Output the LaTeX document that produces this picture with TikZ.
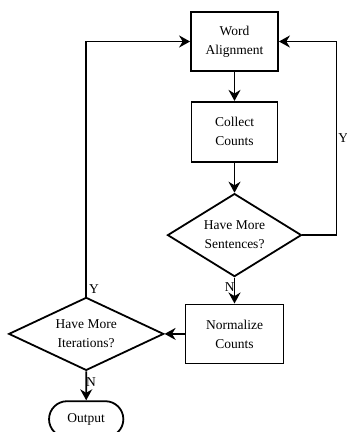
\documentclass[tikz,border=0pt]{standalone}
\usepackage{fontspec}
\setmainfont{Liberation Serif}
\usetikzlibrary{positioning, arrows.meta, shapes.geometric, shapes.misc}

\begin{document}
\begin{tikzpicture}[
  x=1pt, y=-1pt,
  every node/.style={font=\fontsize{13.5}{19}\selectfont},
  box/.style={draw, rectangle, line width=1.8pt, align=center, inner sep=2pt},
  decide/.style={draw, diamond, line width=1.8pt, align=center, inner sep=0pt},
  term/.style={draw, rounded rectangle, line width=1.8pt, align=center, minimum width=81pt, minimum height=36pt},
  lbl/.style={inner sep=0pt},
  arr/.style={-{Stealth[length=11pt, width=12pt]}, line width=1.8pt}
]
  \useasboundingbox (0,0) rectangle (347,432);

  \node[box, minimum width=87pt, minimum height=59pt] (word) at (234.5,41.5) {Word\\Alignment};
  \node[box, below=29pt of word, minimum width=86pt, minimum height=60pt] (collect) {Collect\\Counts};
  \node[decide, below=30pt of collect, aspect=1.6, minimum width=134pt, minimum height=83pt] (sent)
    {Have More\\Sentences?};
  \node[box, below=26pt of sent, minimum width=98pt, minimum height=59pt] (norm) {Normalize\\Counts};
  \node[decide, left=20pt of norm, aspect=2.1, minimum width=155pt, minimum height=73pt] (iter)
    {Have More\\Iterations?};
  \node[term, below=29pt of iter] (out) {Output};

  \coordinate[right=34pt of sent.east] (rturn);

  \draw[arr] (word) -- (collect);
  \draw[arr] (collect) -- (sent);
  \draw[arr] (sent.east) -- (rturn) |- node[pos=0.25, lbl, right=1pt] {Y} (word.east);
  \draw[arr] (sent) -- node[pos=0, lbl, anchor=north east, yshift=-4pt, xshift=1pt] {N} (norm);
  \draw[arr] (norm) -- (iter);
  \draw[arr] (iter.north) |- node[pos=0, anchor=south west, inner sep=2pt] {Y} (word.west);
  \draw[arr] (iter) -- node[pos=0, lbl, anchor=north west, yshift=-5pt, xshift=-1pt] {N} (out);
\end{tikzpicture}
\end{document}
